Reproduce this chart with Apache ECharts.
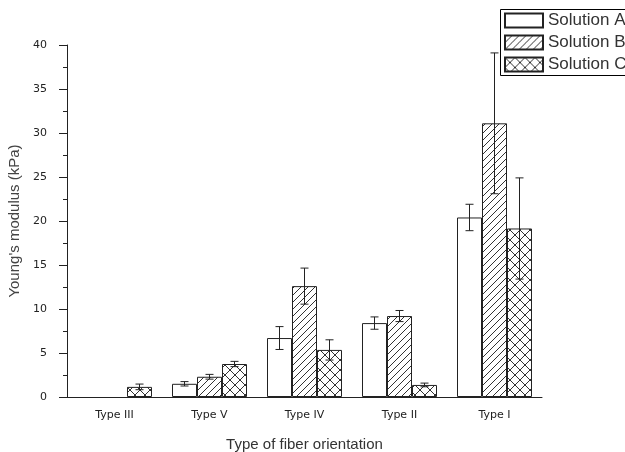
<!DOCTYPE html>
<html>
<head>
<meta charset="utf-8">
<script src="https://cdn.jsdelivr.net/npm/echarts@6/dist/echarts.min.js"></script>
<style>
  html, body { margin: 0; padding: 0; background: #fff; }
  #chart { width: 625px; height: 452px; }
</style>
</head>
<body>
<div id="chart"></div>
<script>
// data
const categories = ['Type III', 'Type V', 'Type IV', 'Type II', 'Type I'];
const solA = [null, 1.5, 6.7, 8.4, 20.4];
const errA = [null, 0.25, 1.3, 0.7, 1.5];
const solB = [null, 2.3, 12.6, 9.2, 31.1];
const errB = [null, 0.27, 2.05, 0.63, 8.0];
const solC = [1.15, 3.75, 5.35, 1.37, 19.15];
const errC = [0.32, 0.3, 1.15, 0.21, 5.75];
const yTicks = [0, 5, 10, 15, 20, 25, 30, 35, 40];

// hatch fill patterns
function hatch(size, cross) {
  const c = document.createElement('canvas');
  c.width = c.height = size;
  const g = c.getContext('2d');
  g.fillStyle = '#fff';
  g.fillRect(0, 0, size, size);
  g.strokeStyle = '#333';
  g.lineWidth = 1;
  g.beginPath();
  g.moveTo(0, size); g.lineTo(size, 0);
  g.moveTo(-1, 1); g.lineTo(1, -1);
  g.moveTo(size - 1, size + 1); g.lineTo(size + 1, size - 1);
  if (cross) {
    g.moveTo(0, 0); g.lineTo(size, size);
    g.moveTo(-1, size - 1); g.lineTo(1, size + 1);
    g.moveTo(size - 1, -1); g.lineTo(size + 1, 1);
  }
  g.stroke();
  return c;
}

const barW = 25;

function errData(vals, errs) {
  return vals.map((v, i) => v == null ? null : [i, v, errs[i]]).filter(Boolean);
}

function errRender(offset) {
  return function (params, api) {
    const i = api.value(0), v = api.value(1), e = api.value(2);
    const top = api.coord([i, v + e]);
    const bot = api.coord([i, v - e]);
    const x = top[0] + offset;
    const st = { stroke: '#222', lineWidth: 1 };
    return {
      type: 'group',
      children: [
        { type: 'line', shape: { x1: x, y1: top[1], x2: x, y2: bot[1] }, style: st },
        { type: 'line', shape: { x1: x - 4, y1: top[1], x2: x + 4, y2: top[1] }, style: st },
        { type: 'line', shape: { x1: x - 4, y1: bot[1], x2: x + 4, y2: bot[1] }, style: st }
      ]
    };
  };
}

function errSeries(vals, errs, offset) {
  return {
    type: 'custom',
    renderItem: errRender(offset),
    data: errData(vals, errs),
    encode: { x: 0, y: 1 },
    z: 5,
    silent: true
  };
}

const fontFam = '"Liberation Sans", Arial, sans-serif';
const tickFam = '"DejaVu Sans", sans-serif';

let myChart = echarts.init(document.getElementById('chart'));
myChart.setOption({
  animation: false,
  grid: { left: 67, right: 83, top: 45, bottom: 55, outerBoundsMode: 'none', containLabel: false },
  // legend frame runs off the right edge like in the original
  graphic: [{
    type: 'rect',
    shape: { x: 500.5, y: 9.5, width: 200, height: 66 },
    style: { fill: 'none', stroke: '#000', lineWidth: 1 },
    z: 10
  }],
  legend: {
    orient: 'vertical',
    left: 500,
    top: 10,
    padding: [2, 4, 2, 4],
    itemWidth: 38,
    itemHeight: 14,
    itemGap: 5,
    icon: 'rect',
    textStyle: { fontFamily: fontFam, fontSize: 17, color: '#333' },
    data: ['Solution A', 'Solution B', 'Solution C']
  },
  xAxis: [
    {
      type: 'category',
      data: categories,
      name: 'Type of fiber orientation',
      nameLocation: 'middle',
      nameGap: 40,
      nameTextStyle: { fontFamily: fontFam, fontSize: 15, color: '#333' },
      axisLine: { lineStyle: { color: '#222' } },
      axisTick: { alignWithLabel: true, length: 8, lineStyle: { color: '#222' } },
      axisLabel: { fontFamily: tickFam, fontSize: 11, color: '#222', margin: 13 }
    },
    {
      type: 'category',
      data: categories,
      position: 'bottom',
      axisLine: { show: false },
      axisTick: { length: 4, lineStyle: { color: '#222' } },
      axisLabel: { show: false }
    }
  ],
  yAxis: {
    type: 'value',
    min: yTicks[0],
    max: yTicks[yTicks.length - 1],
    interval: 5,
    name: "Young's modulus (kPa)",
    nameLocation: 'middle',
    nameGap: 39,
    nameTextStyle: { fontFamily: fontFam, fontSize: 15, color: '#444' },
    axisLine: { show: true, lineStyle: { color: '#222' } },
    axisTick: { show: true, length: 8, lineStyle: { color: '#222' } },
    minorTick: { show: true, splitNumber: 2, length: 4, lineStyle: { color: '#222' } },
    splitLine: { show: false },
    axisLabel: { fontFamily: tickFam, fontSize: 11, color: '#222', margin: 20 }
  },
  series: [
    {
      name: 'Solution A', type: 'bar', data: solA, barWidth: barW, barGap: '0%',
      itemStyle: { color: '#fff', borderColor: '#222', borderWidth: 1 }
    },
    {
      name: 'Solution B', type: 'bar', data: solB, barWidth: barW, barGap: '0%',
      itemStyle: { color: { image: hatch(7, false), repeat: 'repeat' }, borderColor: '#222', borderWidth: 1 }
    },
    {
      name: 'Solution C', type: 'bar', data: solC, barWidth: barW, barGap: '0%',
      itemStyle: { color: { image: hatch(10, true), repeat: 'repeat' }, borderColor: '#222', borderWidth: 1 }
    },
    errSeries(solA, errA, -barW),
    errSeries(solB, errB, 0),
    errSeries(solC, errC, barW)
  ]
});
</script>
</body>
</html>
